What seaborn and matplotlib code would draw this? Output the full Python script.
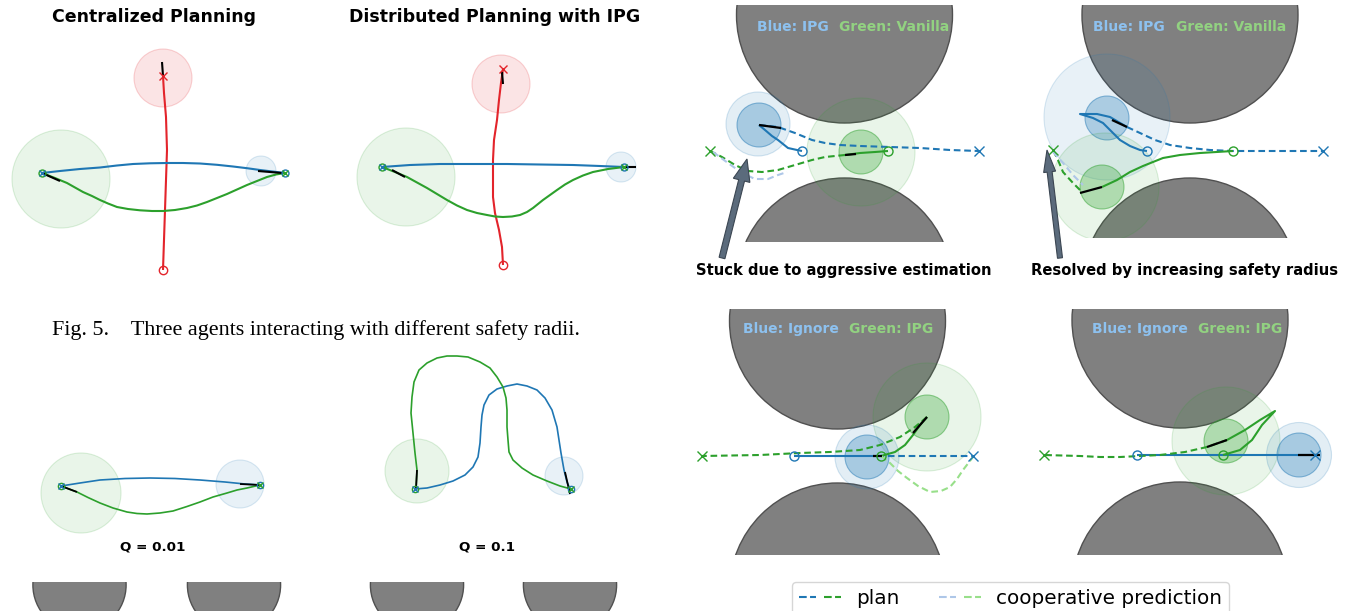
import matplotlib
matplotlib.use("Agg")
import matplotlib.pyplot as plt
import seaborn as sns
from matplotlib.patches import Circle, Rectangle
from matplotlib.lines import Line2D
from matplotlib.legend_handler import HandlerTuple
from matplotlib.colors import to_rgba

sns.set_theme(style="white")
plt.rcParams['font.family'] = ['DejaVu Sans']
plt.rcParams['text.color'] = 'black'

BLUE = '#1f77b4'
GREEN = '#2ca02c'
RED = '#e3242b'
LBLUE = '#aec7e8'
LGREEN = '#98df8a'
OBST = '#808080'

# ---- Fig.5 top row (pixel units of the page) ----
CEN_RED = [(163, 270), (164, 240), (165, 210), (166, 180), (167, 150), (166, 117), (164, 93), (163, 76)]
CEN_BLUE = [(42, 173), (60, 171), (80, 169), (100, 167.5), (117, 165.5), (133, 164), (150, 163.3),
            (167, 163), (183, 163), (200, 163.5), (217, 164.8), (233, 166.5), (247, 168.2),
            (260, 170), (285, 173)]
CEN_GREEN = [(42, 173), (55, 178), (67, 183), (75, 187.5), (83, 192), (92, 196), (100, 200),
             (108, 203.5), (117, 207), (128, 209), (140, 210.3), (152, 211), (163, 211), (175, 210),
             (187, 208), (197, 205.5), (207, 202), (217, 198), (227, 194), (237, 189.5), (247, 185),
             (257, 181), (267, 177), (276, 174.5), (285, 173)]
CEN_BLACK = [[(163, 76), (162, 62)], [(42, 173), (60, 181)], [(258, 171), (282, 173)]]
CEN_CIRC = [(163, 78, 29, RED), (61, 179, 49, GREEN), (261, 171, 15, BLUE)]

DIS_RED = [(503, 265), (502, 247), (499, 230), (495, 213), (493, 197), (493, 180), (493, 160),
           (494, 140), (497, 120), (499, 100), (501, 83), (503, 69)]
DIS_BLUE = [(382, 167), (410, 165), (440, 164), (507, 164), (573, 165), (600, 166), (624, 167)]
DIS_GREEN = [(382, 167), (395, 172), (407, 177), (417, 182.5), (427, 188), (437, 194), (447, 200),
             (457, 205.5), (467, 210), (477, 213), (487, 215), (495, 216.5), (503, 217), (512, 216.5),
             (520, 215), (527, 212), (533, 208), (538, 204), (543, 200), (550, 195), (557, 190),
             (565, 184.5), (573, 180), (583, 175.5), (593, 172), (608, 169), (624, 167)]
DIS_BLACK = [[(503, 84), (502, 72)], [(392, 170), (405, 177)], [(624, 167), (636, 167)]]
DIS_CIRC = [(501, 84, 29, RED), (406, 177, 49, GREEN), (621, 167, 15, BLUE)]

# ---- Q comparison row ----
Q1_BLUE = [(61, 486), (80, 483), (100, 480), (125, 478.5), (150, 478), (175, 478.5), (200, 480),
           (225, 482), (245, 484), (260, 485)]
Q1_GREEN = [(61, 486), (69, 489), (77, 492), (88, 497.5), (100, 503), (113, 508), (127, 512),
            (137, 513.5), (147, 514), (160, 513), (173, 511), (187, 506.5), (200, 502), (213, 497),
            (227, 493), (237, 490), (247, 488), (260, 485)]
Q1_BLACK = [[(61, 486), (77, 492)], [(240, 484), (260, 485)]]
Q1_CIRC = [(81, 493, 40, GREEN), (240, 484, 24, BLUE)]

Q2_GREEN = [(416, 489), (417, 470), (415, 453), (413, 433), (411, 413), (412, 397), (414, 382),
            (419, 370), (427, 363), (437, 358), (447, 356), (457, 356), (468, 357), (480, 362),
            (490, 368), (497, 377), (503, 387), (506, 398), (507, 410), (507, 427), (508, 440),
            (509, 452), (513, 460), (522, 468), (533, 475), (547, 481), (560, 486), (571, 489)]
Q2_BLUE = [(415, 489), (427, 488), (440, 485), (453, 481), (465, 475), (473, 467), (478, 457),
           (480, 443), (481, 427), (482, 415), (484, 405), (489, 395), (497, 389), (507, 386),
           (517, 384), (527, 386), (537, 390), (545, 398), (552, 410), (557, 427), (559, 440),
           (561, 453), (564, 470), (567, 482), (570, 489)]
Q2_BLACK = [[(416, 489), (417, 470)], [(565, 472), (570, 494)]]
Q2_CIRC = [(417, 471, 32, GREEN), (564, 476, 19, BLUE)]

BOWL_X = [79.5, 234, 417, 570]
BOWL_Y = 585
BOWL_R = 46.6

# ---- narrow passage panels ----
P3_OBST = [(844.5, 15), (844.5, 286)]
P3_CIRC = [(758, 124, 32, BLUE, 0.12), (759, 125, 22, BLUE, 0.3),
           (861, 152, 54, GREEN, 0.1), (861, 152, 22, GREEN, 0.3)]
P3_BLUE_EXEC = [(759, 125), (765, 130), (772, 136), (778, 140), (783, 144), (788, 148), (797, 150),
                (802, 151)]
P3_BLUE_PLAN = [(759, 125), (778, 127), (795, 133), (812, 140), (825, 143), (840, 145), (860, 146),
                (890, 147), (920, 148), (950, 150), (979, 151)]
P3_GREEN_EXEC = [(888, 151), (875, 152), (860, 153), (845, 155)]
P3_GREEN_PLAN = [(845, 155), (825, 157), (812, 160), (795, 165), (778, 170), (762, 172), (748, 171),
                 (735, 165), (722, 157), (710, 151)]
P3_COOP = [(713, 152), (728, 163), (742, 173), (755, 179), (768, 179), (778, 175), (787, 172)]
P3_BLACK = [[(759, 125), (781, 128)], [(845, 155), (856, 154)]]
P3_MARK = [(802, 151, 'o', BLUE), (979, 151, 'x', BLUE), (888, 151, 'o', GREEN), (710, 151, 'x', GREEN)]

P4_OBST = [(1190, 15), (1190, 286)]
P4_CIRC = [(1107, 117, 63, BLUE, 0.1), (1107, 118, 22, BLUE, 0.3),
           (1105, 187, 54, GREEN, 0.1), (1102, 187, 22, GREEN, 0.3)]
P4_BLUE_EXEC = [(1147, 151), (1140, 150), (1130, 146), (1120, 140), (1112, 132), (1103, 123),
                (1093, 118), (1080, 114), (1097, 114), (1110, 117), (1127, 127)]
P4_BLUE_PLAN = [(1127, 127), (1140, 133), (1155, 140), (1170, 145), (1190, 148), (1210, 150),
                (1233, 151), (1270, 151), (1323, 151)]
P4_GREEN_EXEC = [(1233, 151), (1200, 153), (1180, 155), (1163, 158), (1143, 166), (1130, 172),
                 (1117, 180), (1102, 187)]
P4_GREEN_PLAN = [(1080, 190), (1073, 183), (1063, 172), (1058, 160), (1053, 150)]
P4_COOP = [(1053, 152), (1063, 163), (1073, 175), (1083, 185)]
P4_BLACK = [[(1112, 120), (1127, 127)], [(1102, 187), (1080, 193)]]
P4_MARK = [(1147, 151, 'o', BLUE), (1323, 151, 'x', BLUE), (1233, 151, 'o', GREEN), (1053, 150, 'x', GREEN)]

P5_OBST = [(837.5, 321), (837.5, 591)]
P5_CIRC = [(927, 417, 54, GREEN, 0.1), (927, 417, 22, GREEN, 0.3),
           (867, 457, 32, BLUE, 0.12), (867, 457, 22, BLUE, 0.3)]
P5_BLUE_EXEC = [(794, 456), (867, 456)]
P5_BLUE_PLAN = [(867, 456), (973, 456)]
P5_GREEN_EXEC = [(881, 456), (895, 452), (905, 445), (913, 435), (920, 425), (927, 417)]
P5_GREEN_PLAN = [(927, 417), (915, 427), (900, 437), (880, 445), (860, 450), (830, 452), (800, 453),
                 (760, 455), (702, 456)]
P5_COOP = [(881, 456), (890, 463), (898, 471), (907, 478), (918, 486), (930, 492), (941, 491),
           (950, 487), (957, 479), (963, 470), (973, 457)]
P5_BLACK = [[(873, 456), (882, 456)], [(913, 433), (927, 417)]]
P5_MARK = [(794, 456, 'o', BLUE), (973, 456, 'x', BLUE), (881, 456, 'o', GREEN), (702, 456, 'x', GREEN)]

P6_OBST = [(1180, 320), (1180, 590)]
P6_CIRC = [(1226, 441, 54, GREEN, 0.1), (1226, 441, 22, GREEN, 0.3),
           (1299, 455, 32.5, BLUE, 0.12), (1299, 455, 22, BLUE, 0.3)]
P6_BLUE_EXEC = [(1137, 455), (1317, 455)]
P6_GREEN_EXEC = [(1223, 455), (1240, 450), (1252, 440), (1262, 425), (1275, 411), (1260, 420),
                 (1245, 430), (1227, 440)]
P6_GREEN_PLAN = [(1227, 440), (1207, 447), (1185, 452), (1160, 455), (1140, 456), (1120, 457),
                 (1100, 457), (1080, 456), (1044, 455)]
P6_BLACK = [[(1298, 455), (1320, 455)], [(1207, 447), (1227, 440)]]
P6_MARK = [(1137, 455, 'o', BLUE), (1315, 455, 'x', BLUE), (1223, 455, 'o', GREEN), (1044, 455, 'x', GREEN)]

fig = plt.figure(figsize=(13.51, 6.11), dpi=100)
ax = fig.add_axes([0, 0, 1, 1])

DASH = (0, (3.2, 1.8))


def clip_rect(x0, y0, x1, y1):
    r = Rectangle((x0, y0), x1 - x0, y1 - y0, transform=ax.transData)
    return r


def path(pts, color, ls='-', lw=1.3, clip=None, z=3):
    n = len(ax.lines)
    sns.lineplot(x=[p[0] for p in pts], y=[p[1] for p in pts], sort=False, estimator=None,
                 color=color, linestyle=ls, linewidth=lw, ax=ax, legend=False, zorder=z)
    for ln in ax.lines[n:]:
        ln.set_solid_capstyle('butt')
        ln.set_solid_joinstyle('round')
        if clip is not None:
            ln.set_clip_path(clip)


def circ(x, y, r, color, a, clip=None, z=1):
    c = Circle((x, y), r, fc=to_rgba(color, a), ec=to_rgba(color, min(a * 1.6, 1)), lw=0.8, zorder=z)
    ax.add_patch(c)
    if clip is not None:
        c.set_clip_path(clip)


def obstacle(x, y, r, clip):
    c = Circle((x, y), r, fc=OBST, ec='#505050', lw=1.0, zorder=0.5)
    ax.add_patch(c)
    c.set_clip_path(clip)


def mark(x, y, m, color, ms=6, z=5):
    if m == 'o':
        ax.plot([x], [y], marker='o', ms=ms, mfc='none', mec=color, mew=1.0, zorder=z)
    else:
        ax.plot([x], [y], marker='x', ms=ms, mec=color, mew=1.0, zorder=z)


# ---- top-left panels ----
for circles, red, blue, green, blacks in [(CEN_CIRC, CEN_RED, CEN_BLUE, CEN_GREEN, CEN_BLACK),
                                          (DIS_CIRC, DIS_RED, DIS_BLUE, DIS_GREEN, DIS_BLACK)]:
    for (x, y, r, c) in circles:
        circ(x, y, r, c, 0.12 if c == RED else 0.1)
    path(red, RED, lw=1.5)
    path(blue, BLUE, lw=1.5)
    path(green, GREEN, lw=1.5)
    for seg in blacks:
        path(seg, 'black', lw=1.5, z=4)
    mark(*red[0], 'o', RED)
    mark(*red[-1], 'x', RED)
    mark(*blue[0], 'o', GREEN, ms=5)
    mark(*blue[0], 'x', BLUE, ms=5)
    mark(*blue[-1], 'o', BLUE, ms=5)
    mark(*blue[-1], 'x', GREEN, ms=5)

ax.text(154, 17, 'Centralized Planning', ha='center', va='center', fontsize=12.5, fontweight='bold')
ax.text(495, 17, 'Distributed Planning with IPG', ha='center', va='center', fontsize=12.5, fontweight='bold')
ax.text(52, 330, 'Fig. 5.    Three agents interacting with different safety radii.', ha='left',
        va='center', fontsize=15.9, family=['Liberation Serif'])

# ---- Q panels ----
for circles, blue, green, blacks in [(Q1_CIRC, Q1_BLUE, Q1_GREEN, Q1_BLACK),
                                     (Q2_CIRC, Q2_BLUE, Q2_GREEN, Q2_BLACK)]:
    for (x, y, r, c) in circles:
        circ(x, y, r, c, 0.1)
    path(blue, BLUE, lw=1.2)
    path(green, GREEN, lw=1.2)
    for seg in blacks:
        path(seg, 'black', lw=1.3, z=4)
    mark(*blue[0], 'o', GREEN, ms=4.5)
    mark(*blue[0], 'x', BLUE, ms=4.5)
    mark(*green[-1], 'o', BLUE, ms=4.5)
    mark(*green[-1], 'x', GREEN, ms=4.5)

ax.text(153, 547, 'Q = 0.01', ha='center', va='center', fontsize=9.7, fontweight='bold')
ax.text(487, 547, 'Q = 0.1', ha='center', va='center', fontsize=9.7, fontweight='bold')

bowl_clip = clip_rect(0, 582, 680, 620)
for bx in BOWL_X:
    obstacle(bx, BOWL_Y, BOWL_R, bowl_clip)

# ---- passage panels ----
panels = [
    (clip_rect(697, 5, 1000, 242), P3_OBST, P3_CIRC,
     [(P3_BLUE_EXEC, BLUE, '-'), (P3_BLUE_PLAN, BLUE, DASH), (P3_GREEN_EXEC, GREEN, '-'),
      (P3_GREEN_PLAN, GREEN, DASH), (P3_COOP, LBLUE, DASH)], P3_BLACK, P3_MARK),
    (clip_rect(1040, 5, 1345, 238), P4_OBST, P4_CIRC,
     [(P4_BLUE_EXEC, BLUE, '-'), (P4_BLUE_PLAN, BLUE, DASH), (P4_GREEN_EXEC, GREEN, '-'),
      (P4_GREEN_PLAN, GREEN, DASH), (P4_COOP, LBLUE, DASH)], P4_BLACK, P4_MARK),
    (clip_rect(697, 309, 1000, 555), P5_OBST, P5_CIRC,
     [(P5_BLUE_EXEC, BLUE, '-'), (P5_BLUE_PLAN, BLUE, DASH), (P5_GREEN_EXEC, GREEN, '-'),
      (P5_GREEN_PLAN, GREEN, DASH), (P5_COOP, LGREEN, DASH)], P5_BLACK, P5_MARK),
    (clip_rect(1035, 309, 1345, 555), P6_OBST, P6_CIRC,
     [(P6_BLUE_EXEC, BLUE, '-'), (P6_GREEN_EXEC, GREEN, '-'), (P6_GREEN_PLAN, GREEN, DASH)],
     P6_BLACK, P6_MARK),
]
for clip, obst, circles, lines, blacks, marks in panels:
    for (x, y) in obst:
        obstacle(x, y, 108, clip)
    for (x, y, r, c, a) in circles:
        circ(x, y, r, c, a, clip=clip)
    for pts, c, ls in lines:
        path(pts, c, ls=ls, lw=1.5, clip=clip)
    for seg in blacks:
        path(seg, 'black', lw=1.6, clip=clip, z=4)
    for (x, y, m, c) in marks:
        mark(x, y, m, c, ms=6.5)

LBL_BLUE = '#8dc1ef'
LBL_GREEN = '#92d281'
for (bx, gx, y, b, g) in [(757, 839, 27, 'Blue: IPG', 'Green: Vanilla'),
                          (1093, 1176, 27, 'Blue: IPG', 'Green: Vanilla'),
                          (743, 849, 329, 'Blue: Ignore', 'Green: IPG'),
                          (1092, 1198, 329, 'Blue: Ignore', 'Green: IPG')]:
    ax.text(bx, y, b, color=LBL_BLUE, fontsize=10, fontweight='bold', ha='left', va='center', zorder=6)
    ax.text(gx, y, g, color=LBL_GREEN, fontsize=10, fontweight='bold', ha='left', va='center', zorder=6)

ax.arrow(722, 258, 25, -99, width=6, head_width=17, head_length=22, length_includes_head=True,
         fc='#5b6b7c', ec='#3b4652', lw=0.8, zorder=6)
ax.arrow(1060, 258, -13, -108, width=5, head_width=12, head_length=22, length_includes_head=True,
         fc='#5b6b7c', ec='#3b4652', lw=0.8, zorder=6)
ax.text(844, 270, 'Stuck due to aggressive estimation', ha='center', va='center', fontsize=10.6,
        fontweight='bold')
ax.text(1185, 270, 'Resolved by increasing safety radius', ha='center', va='center', fontsize=10.6,
        fontweight='bold')

plan_h = (Line2D([], [], color=BLUE, ls='--', lw=1.5), Line2D([], [], color=GREEN, ls='--', lw=1.5))
coop_h = (Line2D([], [], color=LBLUE, ls='--', lw=1.5), Line2D([], [], color=LGREEN, ls='--', lw=1.5))
fig.legend([plan_h, coop_h], ['plan', 'cooperative prediction'],
           handler_map={tuple: HandlerTuple(ndivide=None, pad=0.4)},
           loc='upper center', bbox_to_anchor=(1010.5 / 1351, 1 - 582 / 611), ncol=2, fontsize=14.4,
           handlelength=2.1, handletextpad=0.75, columnspacing=1.95, frameon=True, borderaxespad=0,
           borderpad=0.35)

ax.set_xlim(0, 1351)
ax.set_ylim(611, 0)
ax.axis('off')
fig.savefig('out.png', dpi=100)
